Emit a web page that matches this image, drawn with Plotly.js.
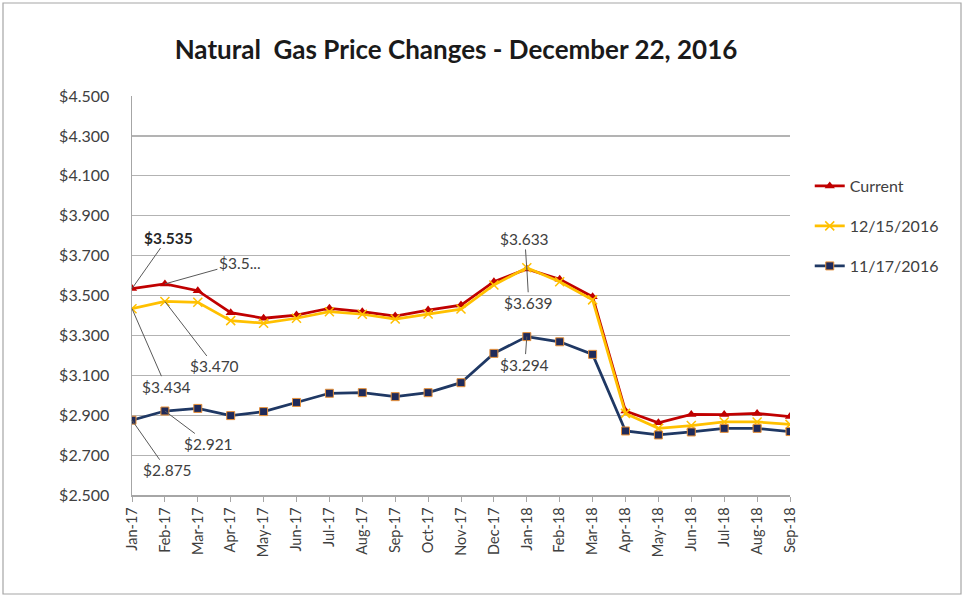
<!DOCTYPE html>
<html>
<head>
<meta charset="utf-8">
<script src="https://cdn.plot.ly/plotly-3.0.1.min.js"></script>
<style>html,body{margin:0;padding:0;background:#fff;}#chart{width:964px;height:597px;}</style>
</head>
<body>
<div id="chart"></div>
<script>
const months = ["Jan-17","Feb-17","Mar-17","Apr-17","May-17","Jun-17","Jul-17","Aug-17","Sep-17","Oct-17","Nov-17","Dec-17","Jan-18","Feb-18","Mar-18","Apr-18","May-18","Jun-18","Jul-18","Aug-18","Sep-18"];
const current = [3.535,3.558,3.524,3.414,3.386,3.402,3.436,3.419,3.397,3.427,3.452,3.569,3.633,3.581,3.494,2.921,2.862,2.904,2.903,2.909,2.893];
const dec15 = [3.434,3.470,3.466,3.374,3.361,3.386,3.419,3.406,3.382,3.407,3.432,3.553,3.639,3.569,3.478,2.909,2.834,2.848,2.866,2.866,2.854];
const nov17 = [2.875,2.921,2.934,2.898,2.918,2.964,3.010,3.013,2.993,3.013,3.063,3.210,3.294,3.268,3.205,2.821,2.801,2.816,2.834,2.834,2.818];
const yTicks = [2.5,2.7,2.9,3.1,3.3,3.5,3.7,3.9,4.1,4.3,4.5];

const FONT = "Lato, 'Open Sans', sans-serif";
const TXT = "#404040";

const traces = [
  {x: months, y: current, name: "Current", type: "scatter", mode: "lines+markers",
   line: {color: "#c00000", width: 2.75}, marker: {symbol: "triangle-up", size: 9, color: "#c00000"}, legend: "legend"},
  {x: months, y: dec15, name: "12/15/2016", type: "scatter", mode: "lines+markers",
   line: {color: "#ffc000", width: 2.75}, marker: {symbol: "x-thin-open", size: 9, color: "#ffc000", line: {color: "#ffc000", width: 1.5}}, legend: "legend2"},
  {x: months, y: nov17, name: "11/17/2016", type: "scatter", mode: "lines+markers",
   line: {color: "#1f3864", width: 2.75}, marker: {symbol: "square", size: 8, color: "#1f2a5a", line: {color: "#e8913a", width: 1}}, legend: "legend3"}
];

function lab(i, arr, text, ax, ay, bold) {
  return {x: months[i], y: arr[i], xref: "x", yref: "y", text: bold ? "<b>" + text + "</b>" : text,
    showarrow: true, arrowhead: 0, arrowwidth: 1, arrowcolor: "#595959", ax: ax, ay: ay, standoff: 0,
    font: {family: FONT, size: 15.5, color: bold ? "#262626" : TXT}};
}

const annotations = [
  lab(0, current, "$3.535", 36, -51, true),
  lab(1, current, "$3.5...", 75, -21, false),
  lab(1, dec15, "$3.470", 50, 65, false),
  lab(0, dec15, "$3.434", 34, 78, false),
  lab(1, nov17, "$2.921", 44, 33, false),
  lab(0, nov17, "$2.875", 35, 50, false),
  lab(12, current, "$3.633", -2, -30, false),
  lab(12, dec15, "$3.639", 2, 35, false),
  lab(12, nov17, "$3.294", -2, 28, false)
];

const legBase = {xref: "paper", yref: "paper", x: 1.03, xanchor: "left", yanchor: "middle",
  font: {family: FONT, size: 16, color: TXT}, bgcolor: "rgba(0,0,0,0)", itemwidth: 30};

const layout = {
  width: 964, height: 597,
  margin: {l: 132, r: 174, t: 96, b: 102},
  paper_bgcolor: "#fff", plot_bgcolor: "#fff",
  font: {family: FONT, color: TXT},
  title: {text: "<b>Natural  Gas Price Changes - December 22, 2016</b>", x: 456/964, xanchor: "center", xref: "container",
    y: 1 - 50/597, yanchor: "middle", yref: "container", font: {family: FONT, size: 26, color: "#1a1a1a"}},
  xaxis: {type: "category", range: [0, 20], tickangle: -90, showgrid: false, showline: true, linecolor: "#a6a6a6", linewidth: 1.5,
    ticks: "outside", ticklen: 5, tickcolor: "#a6a6a6", tickfont: {family: FONT, size: 14.5, color: TXT}, zeroline: false},
  yaxis: {range: [2.5, 4.5], tickvals: yTicks, tickformat: "$.3f", showgrid: true, gridcolor: "#b3b3b3", gridwidth: 1.2,
    showline: true, linecolor: "#a6a6a6", linewidth: 1.5, ticks: "", ticklabelstandoff: 18,
    tickfont: {family: FONT, size: 16, color: TXT}, zeroline: false},
  showlegend: true,
  legend: Object.assign({}, legBase, {y: (495-186)/399}),
  legend2: Object.assign({}, legBase, {y: (495-226)/399}),
  legend3: Object.assign({}, legBase, {y: (495-266)/399}),
  annotations: annotations,
  shapes: [{type: "rect", xref: "paper", yref: "paper", x0: (3-132)/658, x1: (961-132)/658, y0: (495-594)/399, y1: (495-3)/399,
    line: {color: "#a6a6a6", width: 1.2}, fillcolor: "rgba(0,0,0,0)", layer: "below"}]
};

Plotly.newPlot("chart", traces, layout, {displayModeBar: false, staticPlot: true});
</script>
</body>
</html>
